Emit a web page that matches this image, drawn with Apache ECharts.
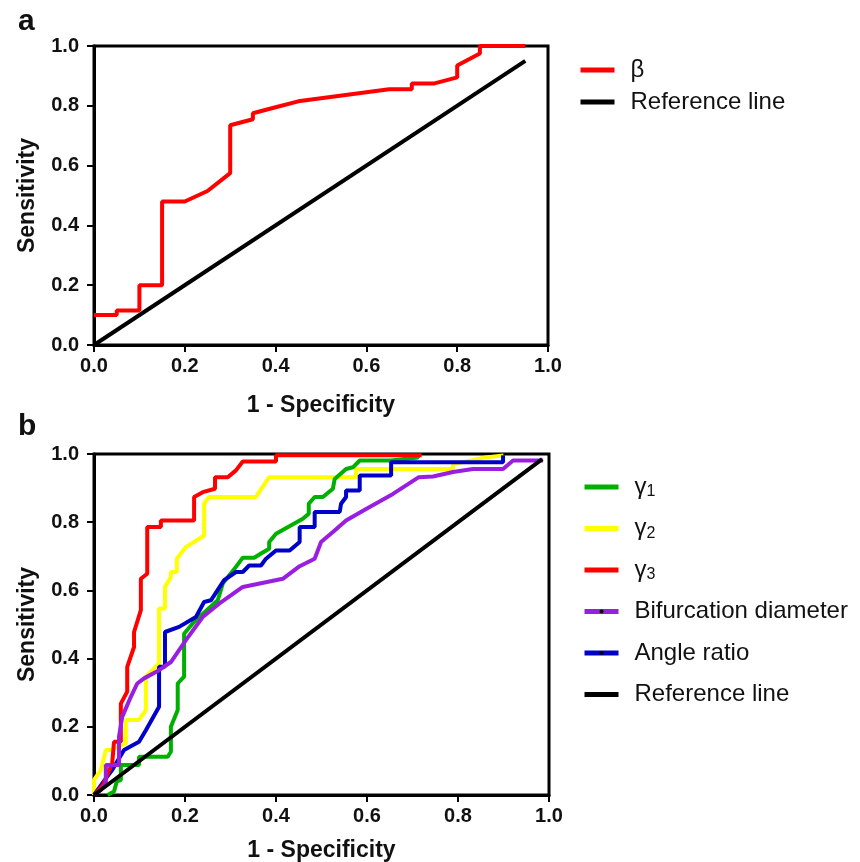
<!DOCTYPE html>
<html>
<head>
<meta charset="utf-8">
<script src="https://cdn.jsdelivr.net/npm/echarts@6/dist/echarts.min.js"></script>
<style>
  html, body { margin: 0; padding: 0; background: #fff; }
  #chart { width: 860px; height: 862px; }
</style>
</head>
<body>
<div id="chart"></div>
<script>
// ROC 曲线数据 (x = 1 - Specificity, y = Sensitivity)
const xTicks = [0, 0.2, 0.4, 0.6, 0.8, 1.0];
const yTicks = [0, 0.2, 0.4, 0.6, 0.8, 1.0];

// 面板 a
const beta = [[0,0.1],[0.05,0.1],[0.05,0.115],[0.1,0.115],[0.1,0.2],[0.15,0.2],[0.15,0.48],[0.2,0.48],
  [0.25,0.515],[0.3,0.575],[0.3,0.735],[0.35,0.755],[0.35,0.775],[0.4,0.795],[0.45,0.815],[0.65,0.855],
  [0.7,0.855],[0.7,0.875],[0.75,0.875],[0.8,0.895],[0.8,0.935],[0.85,0.975],[0.85,1.0],[0.95,1.0]];
const refA = [[0,0],[0.95,0.95]];

// 面板 b
const gamma1 = [[0.03,0],[0.044,0.01],[0.05,0.04],[0.059,0.044],[0.059,0.088],[0.099,0.088],[0.099,0.112],
  [0.162,0.112],[0.169,0.127],[0.169,0.2],[0.184,0.249],[0.184,0.327],[0.198,0.347],[0.198,0.473],[0.22,0.508],
  [0.272,0.571],[0.283,0.62],[0.312,0.669],[0.327,0.696],[0.352,0.696],[0.367,0.708],[0.385,0.722],[0.385,0.742],
  [0.4,0.766],[0.459,0.81],[0.472,0.825],[0.472,0.854],[0.485,0.874],[0.503,0.874],[0.525,0.898],[0.529,0.927],
  [0.554,0.956],[0.569,0.961],[0.584,0.981],[0.653,0.981],[0.712,0.99],[0.712,0.998]];
const gamma2 = [[0,0],[0,0.044],[0.015,0.073],[0.026,0.132],[0.037,0.132],[0.07,0.151],[0.07,0.22],[0.099,0.22],
  [0.114,0.249],[0.114,0.347],[0.143,0.386],[0.143,0.547],[0.156,0.547],[0.156,0.61],[0.169,0.639],[0.169,0.654],
  [0.182,0.654],[0.182,0.693],[0.202,0.727],[0.242,0.761],[0.242,0.854],[0.253,0.874],[0.356,0.874],[0.385,0.932],
  [0.576,0.932],[0.576,0.956],[0.789,0.956],[0.789,0.97],[0.86,0.99],[0.9,0.996]];
const gamma3 = [[0,0],[0.02,0.03],[0.04,0.093],[0.044,0.156],[0.059,0.156],[0.059,0.268],[0.073,0.303],[0.073,0.376],
  [0.088,0.434],[0.088,0.478],[0.103,0.542],[0.103,0.634],[0.117,0.649],[0.117,0.786],[0.147,0.786],[0.147,0.805],
  [0.22,0.805],[0.22,0.874],[0.239,0.888],[0.266,0.898],[0.266,0.932],[0.294,0.932],[0.312,0.952],[0.327,0.978],
  [0.4,0.978],[0.4,0.996],[0.72,0.996]];
const bifurcation = [[0,0],[0.015,0.015],[0.026,0.034],[0.026,0.088],[0.055,0.088],[0.055,0.171],[0.062,0.229],
  [0.081,0.288],[0.095,0.327],[0.11,0.342],[0.143,0.366],[0.169,0.39],[0.202,0.454],[0.239,0.522],[0.275,0.561],
  [0.327,0.61],[0.415,0.634],[0.452,0.671],[0.485,0.693],[0.499,0.742],[0.525,0.771],[0.554,0.805],[0.598,0.839],
  [0.657,0.883],[0.714,0.932],[0.745,0.934],[0.789,0.947],[0.833,0.956],[0.899,0.956],[0.921,0.981],[0.987,0.981]];
const angleRatio = [[0,0],[0.029,0.054],[0.04,0.073],[0.066,0.132],[0.099,0.156],[0.114,0.19],[0.143,0.259],
  [0.143,0.376],[0.156,0.376],[0.156,0.478],[0.187,0.493],[0.224,0.522],[0.242,0.566],[0.257,0.571],[0.286,0.63],
  [0.312,0.654],[0.327,0.654],[0.341,0.673],[0.367,0.673],[0.378,0.693],[0.4,0.717],[0.43,0.717],[0.452,0.742],
  [0.452,0.786],[0.485,0.786],[0.485,0.83],[0.54,0.83],[0.543,0.854],[0.554,0.874],[0.554,0.893],[0.584,0.893],
  [0.584,0.937],[0.653,0.937],[0.653,0.976],[0.899,0.976],[0.899,0.996]];
const refB = [[0,0],[0.985,0.985]];

const FONT = 'Liberation Sans, Arial, sans-serif';

const chart = echarts.init(document.getElementById('chart'));

function xAxisOf(idx, gap) {
  return {
    type: 'value', gridIndex: idx, min: 0, max: 1, interval: 0.2,
    name: '1 - Specificity', nameLocation: 'middle', nameGap: gap,
    nameTextStyle: { fontFamily: FONT, fontSize: 23, fontWeight: 'bold', color: '#111' },
    axisLine: { show: true, lineStyle: { color: '#000', width: 3 } },
    axisTick: { show: true, length: 7, lineStyle: { color: '#000', width: 2 } },
    axisLabel: { margin: 11, fontFamily: FONT, fontSize: 20, fontWeight: 'bold', color: '#111',
      formatter: v => v.toFixed(1) },
    splitLine: { show: false }
  };
}

function yAxisOf(idx) {
  return {
    type: 'value', gridIndex: idx, min: 0, max: 1, interval: 0.2,
    name: 'Sensitivity', nameLocation: 'middle', nameGap: 55,
    nameTextStyle: { fontFamily: FONT, fontSize: 23, fontWeight: 'bold', color: '#111' },
    axisLine: { show: true, lineStyle: { color: '#000', width: 3 } },
    axisTick: { show: true, length: 7, lineStyle: { color: '#000', width: 2 } },
    axisLabel: { margin: 15, fontFamily: FONT, fontSize: 20, fontWeight: 'bold', color: '#111',
      formatter: v => v.toFixed(1) },
    splitLine: { show: false }
  };
}

function line(name, data, color, xi, marker) {
  return {
    name, type: 'line', xAxisIndex: xi, yAxisIndex: xi, data,
    symbol: marker ? 'circle' : 'none', showSymbol: false, symbolSize: 4,
    lineStyle: { color, width: 4 }, itemStyle: { color },
    emphasis: { disabled: true }, animation: false
  };
}

const legendText = {
  fontFamily: FONT, fontSize: 24, color: '#111', lineHeight: 26, padding: [0, 0, 0, 11],
  rich: {
    g: { fontFamily: FONT, fontSize: 24, color: '#111', lineHeight: 26 },
    s: { fontFamily: FONT, fontSize: 16, color: '#111', lineHeight: 12, verticalAlign: 'bottom' }
  }
};
const legendFmt = name => name.charAt(0) === 'γ' ? '{g|γ}{s|' + name.slice(1) + '}' : name;

chart.setOption({
  backgroundColor: '#fff',
  animation: false,
  title: [
    { text: 'a', left: 13, top: 2, textStyle: { fontFamily: FONT, fontSize: 30, fontWeight: 'bold', color: '#111' } },
    { text: 'b', left: 13, top: 407, textStyle: { fontFamily: FONT, fontSize: 30, fontWeight: 'bold', color: '#111' } }
  ],
  grid: [
    { left: 94, top: 46, width: 454, height: 299, show: true, borderColor: '#000', borderWidth: 3,
      outerBoundsMode: 'none', containLabel: false },
    { left: 94, top: 454, width: 455, height: 341, show: true, borderColor: '#000', borderWidth: 3,
      outerBoundsMode: 'none', containLabel: false }
  ],
  xAxis: [xAxisOf(0, 49), xAxisOf(1, 44)],
  yAxis: [yAxisOf(0), yAxisOf(1)],
  legend: [
    {
      orient: 'vertical', left: 573, top: 52, itemWidth: 34, itemHeight: 5, itemGap: 6,
      selectedMode: false, lineStyle: { width: 5 },
      data: ['β', 'Reference line'], textStyle: legendText, formatter: legendFmt
    },
    {
      orient: 'vertical', left: 577, top: 469, itemWidth: 34, itemHeight: 5, itemGap: 15.5,
      selectedMode: false, lineStyle: { width: 5 },
      data: ['γ1', 'γ2', 'γ3',
        { name: 'Bifurcation diameter', itemStyle: { color: '#000' } },
        { name: 'Angle ratio', itemStyle: { color: '#000' } },
        'Reference line'],
      textStyle: legendText, formatter: legendFmt
    }
  ],
  series: [
    line('β', beta, '#ff0000', 0),
    line('Reference line', refA, '#000000', 0),
    line('γ2', gamma2, '#ffff00', 1),
    line('γ1', gamma1, '#00b000', 1),
    line('Angle ratio', angleRatio, '#0000c8', 1, true),
    line('γ3', gamma3, '#ff0000', 1),
    line('Bifurcation diameter', bifurcation, '#9a1ee0', 1, true),
    line('Reference line', refB, '#000000', 1)
  ]
});
</script>
</body>
</html>
